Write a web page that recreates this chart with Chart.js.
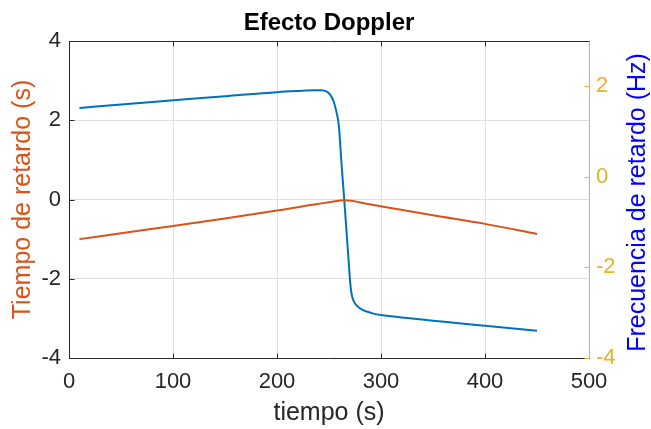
<!DOCTYPE html>
<html>
<head>
<meta charset="utf-8">
<script src="https://cdn.jsdelivr.net/npm/chart.js@4"></script>
<style>
  html, body { margin: 0; padding: 0; background: #fff; }
  canvas { display: block; }
</style>
</head>
<body>
<canvas id="doppler" width="651" height="429"></canvas>
<script>
// ── Datos ─────────────────────────────────────────────────────
const tRetardo = [10, 50, 100, 150, 200, 250, 265, 289, 318, 350, 400, 450];
const retardo  = [-1.00, -0.85, -0.67, -0.48, -0.28, -0.07, -0.02, -0.12, -0.255, -0.40, -0.615, -0.87];

const tFrec = [10, 50, 100, 150, 200, 220, 235, 242, 248.3, 251.5, 254.4, 256.6, 258.2, 259.5,
               262, 264.6, 267.1, 269.3, 270.6, 271.9, 274.1, 277.5, 281.8, 287.1, 292.8, 300,
               325, 350, 375, 400, 450];
const frecuencia = [1.52, 1.60, 1.69, 1.78, 1.87, 1.895, 1.91, 1.91, 1.875, 1.80, 1.67, 1.49, 1.32, 1.12,
                    0.30, -0.49, -1.29, -2.00, -2.39, -2.61, -2.76, -2.86, -2.93, -2.98, -3.02, -3.05,
                    -3.115, -3.175, -3.235, -3.29, -3.40];

const xTicks     = [0, 100, 200, 300, 400, 500];
const leftTicks  = [-4, -2, 0, 2, 4];
const rightTicks = [-4, -2, 0, 2];

// ── Colores estilo MATLAB ─────────────────────────────────────
const NARANJA  = '#D95319';
const AZUL     = '#0072BD';
const AMARILLO = '#EDB120';
const EJE      = '#262626';
const GRILLA   = '#e0e0e0';
const FUENTE   = "'Liberation Sans', Arial, sans-serif";

Chart.defaults.font.family = FUENTE;

// marco + ticks hacia adentro (como MATLAB) + título del eje derecho
const marcoPlugin = {
  id: 'marco',
  afterDatasetsDraw(chart) {
    const { ctx, chartArea: a, scales } = chart;
    const L = a.left + 0.5, R = a.right + 0.5, T = a.top + 0.5, B = a.bottom + 0.5;
    const len = 5;
    ctx.save();
    ctx.lineWidth = 1;

    ctx.strokeStyle = EJE;
    ctx.beginPath();
    ctx.moveTo(R, T); ctx.lineTo(L, T); ctx.lineTo(L, B); ctx.lineTo(R, B);
    xTicks.forEach(v => {
      const x = Math.round(scales.x.getPixelForValue(v)) + 0.5;
      ctx.moveTo(x, B); ctx.lineTo(x, B - len);
      ctx.moveTo(x, T); ctx.lineTo(x, T + len);
    });
    leftTicks.forEach(v => {
      const y = Math.round(scales.y.getPixelForValue(v)) + 0.5;
      ctx.moveTo(L, y); ctx.lineTo(L + len, y);
    });
    ctx.stroke();

    ctx.strokeStyle = AMARILLO;
    ctx.beginPath();
    ctx.moveTo(R, T); ctx.lineTo(R, B);
    rightTicks.forEach(v => {
      const y = Math.round(scales.y1.getPixelForValue(v)) + 0.5;
      ctx.moveTo(R, y); ctx.lineTo(R - len, y);
    });
    ctx.stroke();

    // título derecho, leído de abajo hacia arriba como en MATLAB
    ctx.translate(chart.width - 12.5, (a.top + a.bottom) / 2 + 3);
    ctx.rotate(-Math.PI / 2);
    ctx.font = '25px ' + FUENTE;
    ctx.fillStyle = '#0000FF';
    ctx.textAlign = 'center';
    ctx.textBaseline = 'middle';
    ctx.fillText('Frecuencia de retardo (Hz)', 0, 0);
    ctx.restore();
  }
};

const soloTicks = lista => scale => {
  scale.ticks = lista.map(v => ({ value: v }));
};

new Chart(document.getElementById('doppler'), {
  type: 'line',
  data: {
    datasets: [
      {
        label: 'Tiempo de retardo',
        data: tRetardo.map((t, i) => ({ x: t, y: retardo[i] })),
        yAxisID: 'y',
        borderColor: NARANJA,
        borderWidth: 2,
        pointRadius: 0,
        cubicInterpolationMode: 'monotone'
      },
      {
        label: 'Frecuencia de retardo',
        data: tFrec.map((t, i) => ({ x: t, y: frecuencia[i] })),
        yAxisID: 'y1',
        borderColor: AZUL,
        borderWidth: 2,
        pointRadius: 0,
        cubicInterpolationMode: 'monotone'
      }
    ]
  },
  options: {
    responsive: false,
    animation: false,
    layout: { padding: 0 },
    plugins: {
      legend: { display: false },
      tooltip: { enabled: false },
      title: {
        display: true,
        text: 'Efecto Doppler',
        color: '#000',
        fullSize: false,
        font: { size: 24, weight: 'bold' },
        padding: { top: 8.5, bottom: 3.7 }
      }
    },
    scales: {
      x: {
        type: 'linear',
        min: 0, max: 500,
        afterBuildTicks: soloTicks(xTicks),
        afterFit: s => { s.height = 71; },
        grid: { color: GRILLA, drawTicks: false },
        border: { display: false },
        ticks: { color: EJE, font: { size: 22 }, padding: 11, maxRotation: 0 },
        title: {
          display: true, text: 'tiempo (s)', color: EJE,
          font: { size: 25, lineHeight: 1 }, padding: { top: 0, bottom: 3.5 }
        }
      },
      y: {
        position: 'left',
        min: -4, max: 4,
        afterBuildTicks: soloTicks(leftTicks),
        afterFit: s => { s.width = 69; },
        grid: { color: GRILLA, drawTicks: false },
        border: { display: false },
        ticks: { color: EJE, font: { size: 22 }, padding: 8 },
        title: {
          display: true, text: 'Tiempo de retardo (s)', color: NARANJA,
          font: { size: 25, lineHeight: 1 }, padding: { top: 10.5, bottom: 0 }
        }
      },
      y1: {
        position: 'right',
        min: -4, max: 3,
        afterBuildTicks: soloTicks(rightTicks),
        afterFit: s => { s.width = 62; },
        grid: { display: false, drawTicks: false },
        border: { display: false },
        ticks: { color: AMARILLO, font: { size: 22 }, padding: 7 },
        title: { display: false }
      }
    }
  },
  plugins: [marcoPlugin]
});
</script>
</body>
</html>
